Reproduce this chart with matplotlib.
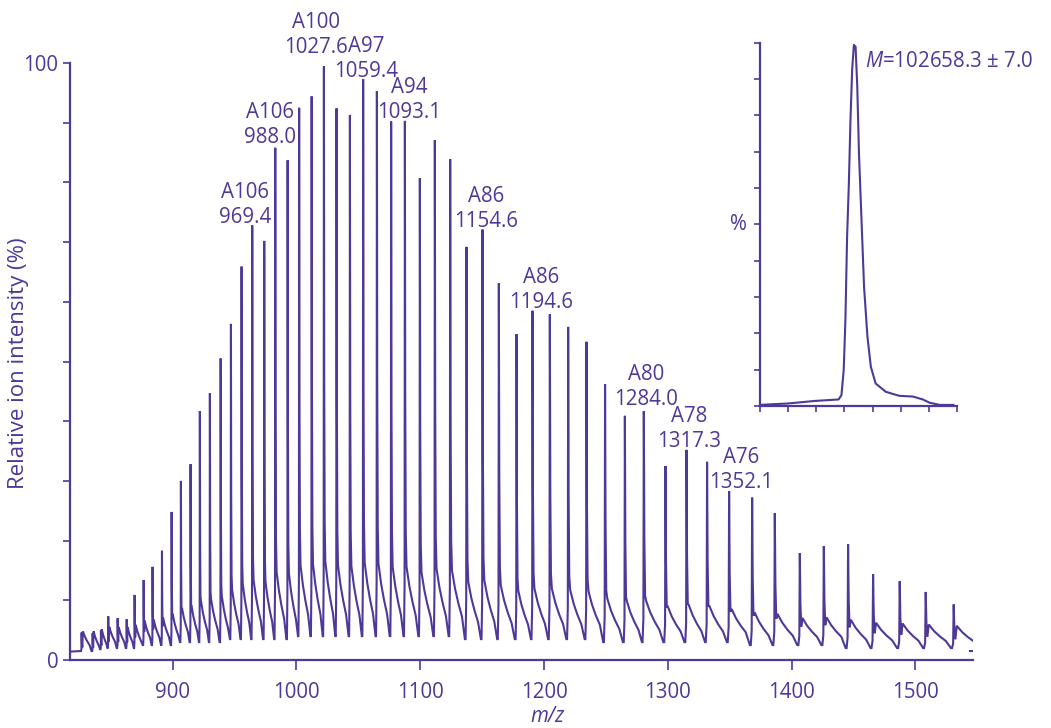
import numpy as np
import matplotlib
matplotlib.use("Agg")
import matplotlib.pyplot as plt

# ---------------- data ----------------
# main ESI spectrum: apex m/z and relative intensity (%) of each charge-state peak
peak_mz = [826.5, 835.4, 842.1, 848.0, 855.6, 862.9, 869.3, 876.6, 883.8, 891.4,
           899.2, 906.7, 914.5, 922.0, 930.1, 938.8, 947.1, 955.7, 964.3, 974.0,
           982.9, 992.9, 1002.2, 1012.3, 1022.2, 1032.4, 1043.2, 1053.9, 1065.0, 1076.5,
           1087.6, 1099.7, 1111.8, 1124.2, 1137.4, 1150.3, 1163.5, 1177.8, 1190.7, 1204.7,
           1219.5, 1234.3, 1249.3, 1265.3, 1280.6, 1298.1, 1315.1, 1331.7, 1349.5, 1368.1,
           1386.4, 1406.6, 1426.0, 1445.6, 1465.8, 1487.3, 1508.3, 1530.9]
peak_int = [4.6, 4.5, 5.0, 7.3, 7.0, 6.8, 10.9, 13.4, 15.6, 18.3,
            24.8, 30.0, 32.8, 41.7, 44.7, 50.5, 56.3, 65.9, 72.8, 70.2,
            85.8, 83.7, 92.5, 94.4, 99.5, 92.4, 91.3, 97.3, 95.3, 90.2,
            90.3, 80.7, 87.1, 83.9, 69.2, 72.1, 63.1, 54.6, 58.5, 57.9,
            55.8, 53.3, 46.2, 40.9, 41.7, 32.5, 35.2, 33.2, 28.3, 27.2,
            24.6, 17.9, 19.1, 19.4, 14.4, 13.2, 11.4, 9.3]
# valley level (%) just before each peak
valley = [1.5, 1.5, 1.8, 2.0, 2.0, 2.0, 2.0, 2.5, 2.5, 2.5,
          2.5, 3.0, 3.0, 3.0, 3.0, 3.0, 3.5, 3.5, 3.5, 3.5,
          3.5, 3.5, 4.0, 4.0, 4.0, 4.0, 4.0, 4.0, 4.0, 4.0,
          4.0, 4.0, 4.0, 4.0, 3.5, 3.5, 3.5, 3.5, 3.5, 3.5,
          3.5, 3.5, 3.0, 3.0, 3.0, 3.0, 3.0, 3.0, 3.0, 2.5,
          2.5, 2.5, 2.5, 2.0, 2.0, 2.0, 2.0, 2.0]
trace_start = (817.0, 1.4)
trace_end = (1544.0, 1.5)

# peak annotations
ann_charge = ["A106", "A106", "A100", "A97", "A94", "A86", "A86", "A80", "A78", "A76"]
ann_mz = ["969.4", "988.0", "1027.6", "1059.4", "1093.1", "1154.6", "1194.6",
          "1284.0", "1317.3", "1352.1"]

# inset: deconvoluted (transformed) mass spectrum
inset_mass = [99300, 100310, 101270, 102100, 102200, 102280, 102340, 102400, 102460,
              102520, 102580, 102640, 102700, 102760, 102820, 102910, 103000, 103120,
              103240, 103410, 103770, 104250, 104730, 105080, 105320, 105680, 106160]
inset_int = [0.3, 0.7, 1.4, 1.8, 3.0, 9.9, 23.6, 46.6, 60.6, 78.9, 92.7, 99.4, 98.9,
             87.9, 69.5, 51.2, 32.8, 19.1, 10.8, 6.2, 3.9, 2.8, 2.6, 1.8, 0.9, 0.3, 0.3]
inset_text = "$\\mathit{M}$=102658.3 \u00b1 7.0"

x_ticks = [900, 1000, 1100, 1200, 1300, 1400, 1500]

# ---------------- style ----------------
C = "#4e3898"
W, H = 1051, 728
plt.rcParams["font.family"] = ["Open Sans", "DejaVu Sans"]
plt.rcParams["mathtext.fontset"] = "custom"
plt.rcParams["mathtext.it"] = "Open Sans:italic"
plt.rcParams["mathtext.rm"] = "Open Sans"
FS = 14.8

fig = plt.figure(figsize=(W / 100, H / 100), dpi=100)

def fx(px):
    return px / W

def fy(py):
    return 1 - py / H

ax = fig.add_axes([fx(69.5), fy(660), fx(973) - fx(69.5), fy(63) - fy(660)])

# build the spectrum polyline from the peak list
xs = [trace_start[0]]
ys = [trace_start[1]]
n = len(peak_mz)
for i in range(n):
    m, h, v = peak_mz[i], peak_int[i], valley[i]
    d = (peak_mz[i + 1] - m) if i < n - 1 else (m - peak_mz[i - 1])
    vn = valley[i + 1] if i < n - 1 else trace_end[1]
    s = v + 3.0 + 0.1 * (h - v)
    seg = [(m - 0.06 * d, v), (m - 0.02 * d, v + 0.1 * (h - v)), (m, h),
           (m + 0.025 * d, v + 0.45 * (h - v)), (m + 0.06 * d, v + 0.2 * (h - v)),
           (m + 0.11 * d, s), (m + 0.3 * d, v + 0.72 * (s - v)),
           (m + 0.5 * d, v + 0.5 * (s - v)), (m + 0.72 * d, v + 0.3 * (s - v)),
           (m + 0.9 * d, vn)]
    for px_, py_ in seg:
        xs.append(px_)
        ys.append(py_)
xs.append(trace_end[0])
ys.append(trace_end[1])
ax.plot(xs, ys, color=C, lw=1.5, solid_joinstyle="miter")

ax.set_xlim(816.7, 1546.5)
ax.set_ylim(0, 100)
for sp in ["top", "right"]:
    ax.spines[sp].set_visible(False)
for sp in ["left", "bottom"]:
    ax.spines[sp].set_color(C)
    ax.spines[sp].set_linewidth(1.6)
ax.set_xticks(x_ticks)
ax.set_xticklabels([str(t) for t in x_ticks])
ax.set_yticks(np.arange(0, 101, 10))
ax.set_yticklabels(["0"] + [""] * 9 + ["100"])
ax.tick_params(axis="both", colors=C, labelcolor=C, labelsize=FS, width=1.2,
               direction="out")
ax.tick_params(axis="x", length=7, pad=9)
ax.tick_params(axis="y", length=5, pad=3)

fig.text(fx(19), fy(363), "Relative ion intensity (%)", rotation=90, color=C,
         fontsize=16, ha="center", va="center")
fig.text(fx(548), fy(717), "m/z", style="italic", color=C, fontsize=FS,
         ha="center", va="center")

# annotations (centre x, baseline of first line) in pixels
ann_pos = [(245, 198), (270, 118), (315.5, 28), (366, 52), (409, 93), (486, 202),
           (541, 283), (646.5, 380), (689.5, 422), (741, 463)]
for (cx, by), a, b in zip(ann_pos, ann_charge, ann_mz):
    fig.text(fx(cx), fy(by), a, color=C, fontsize=FS, ha="center", va="baseline")
    fig.text(fx(cx), fy(by + 25), b, color=C, fontsize=FS, ha="center", va="baseline")

# inset
axi = fig.add_axes([fx(759.5), fy(406), fx(957.3) - fx(759.5), fy(42.7) - fy(406)])
axi.plot(inset_mass, inset_int, color=C, lw=1.5)
axi.set_xlim(99300, 106300)
axi.set_ylim(0, 100)
for sp in ["top", "right"]:
    axi.spines[sp].set_visible(False)
for sp in ["left", "bottom"]:
    axi.spines[sp].set_color(C)
    axi.spines[sp].set_linewidth(1.6)
axi.set_xticks(np.arange(99300, 106301, 1000))
axi.set_yticks(np.arange(0, 101, 10))
axi.set_xticklabels([])
axi.set_yticklabels([])
axi.tick_params(axis="both", colors=C, width=1.2, length=4, direction="out")
fig.text(fx(738), fy(225), "%", color=C, fontsize=FS, ha="center", va="center")
fig.text(fx(865), fy(67), inset_text, color=C, fontsize=FS, ha="left", va="baseline")

fig.savefig("out.png", dpi=100, facecolor="white")
